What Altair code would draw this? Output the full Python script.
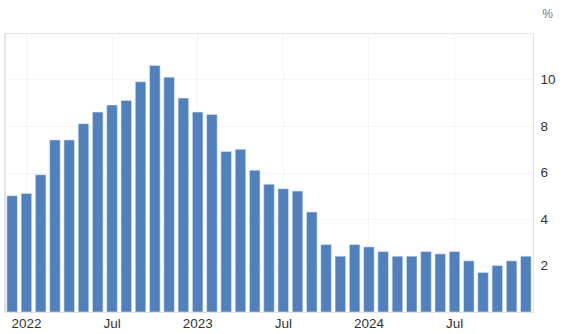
import altair as alt
import pandas as pd

months = ["2021-12",
          "2022-01", "2022-02", "2022-03", "2022-04", "2022-05", "2022-06",
          "2022-07", "2022-08", "2022-09", "2022-10", "2022-11", "2022-12",
          "2023-01", "2023-02", "2023-03", "2023-04", "2023-05", "2023-06",
          "2023-07", "2023-08", "2023-09", "2023-10", "2023-11", "2023-12",
          "2024-01", "2024-02", "2024-03", "2024-04", "2024-05", "2024-06",
          "2024-07", "2024-08", "2024-09", "2024-10", "2024-11", "2024-12"]
values = [5.0,
          5.1, 5.9, 7.4, 7.4, 8.1, 8.6,
          8.9, 9.1, 9.9, 10.6, 10.1, 9.2,
          8.6, 8.5, 6.9, 7.0, 6.1, 5.5,
          5.3, 5.2, 4.3, 2.9, 2.4, 2.9,
          2.8, 2.6, 2.4, 2.4, 2.6, 2.5,
          2.6, 2.2, 1.7, 2.0, 2.2, 2.4]
tick_months = ["2022-01", "2022-07", "2023-01", "2023-07", "2024-01", "2024-07"]
y_ticks = [0, 2, 4, 6, 8, 10, 12]

df = pd.DataFrame({"month": months, "value": values})

FONT = "Liberation Sans"

bars = alt.Chart(df).mark_bar(color="#5181bd", stroke="#dbe6f3", strokeWidth=0.6).encode(
    x=alt.X("month:O", sort=months,
            scale=alt.Scale(paddingInner=0.26, paddingOuter=0.13),
            axis=alt.Axis(values=tick_months, bandPosition=0.5, title=None,
                          labelAngle=0, ticks=False, labelPadding=4,
                          labelExpr="slice(datum.value,5)=='01' ? slice(datum.value,0,4) : 'Jul'",
                          labelFont=FONT, labelFontSize=13.5, labelColor="#333333",
                          domainColor="#e3e3e3", grid=True, gridColor="#ececec",
                          gridDash=[2, 2])),
    y=alt.Y("value:Q", scale=alt.Scale(domain=[0, 12], nice=False),
            axis=alt.Axis(orient="right", values=y_ticks, title="%", titleAngle=0,
                          titleX=14, titleY=-13, titleFont=FONT, titleFontSize=12,
                          titleFontWeight="normal", titleColor="#777777",
                          labelExpr="datum.value==0 || datum.value==12 ? '' : datum.value",
                          labelFont=FONT, labelFontSize=13.5, labelColor="#333333",
                          labelPadding=7, ticks=False, domainColor="#e3e3e3",
                          gridColor="#ececec", gridDash=[2, 2])),
)

left_rule = alt.Chart(df).mark_rule(color="#e3e3e3").encode(
    x=alt.value(0), y=alt.value(0), y2=alt.value(279)
)

chart = alt.layer(left_rule, bars).properties(
    width=528, height=279,
    padding={"left": 5, "top": 33, "right": 32, "bottom": 22},
    autosize=alt.AutoSizeParams(type="none"),
).configure_view(stroke=None).configure(background="white")

chart.save("out.html", embed_options={"renderer": "svg", "actions": False})
